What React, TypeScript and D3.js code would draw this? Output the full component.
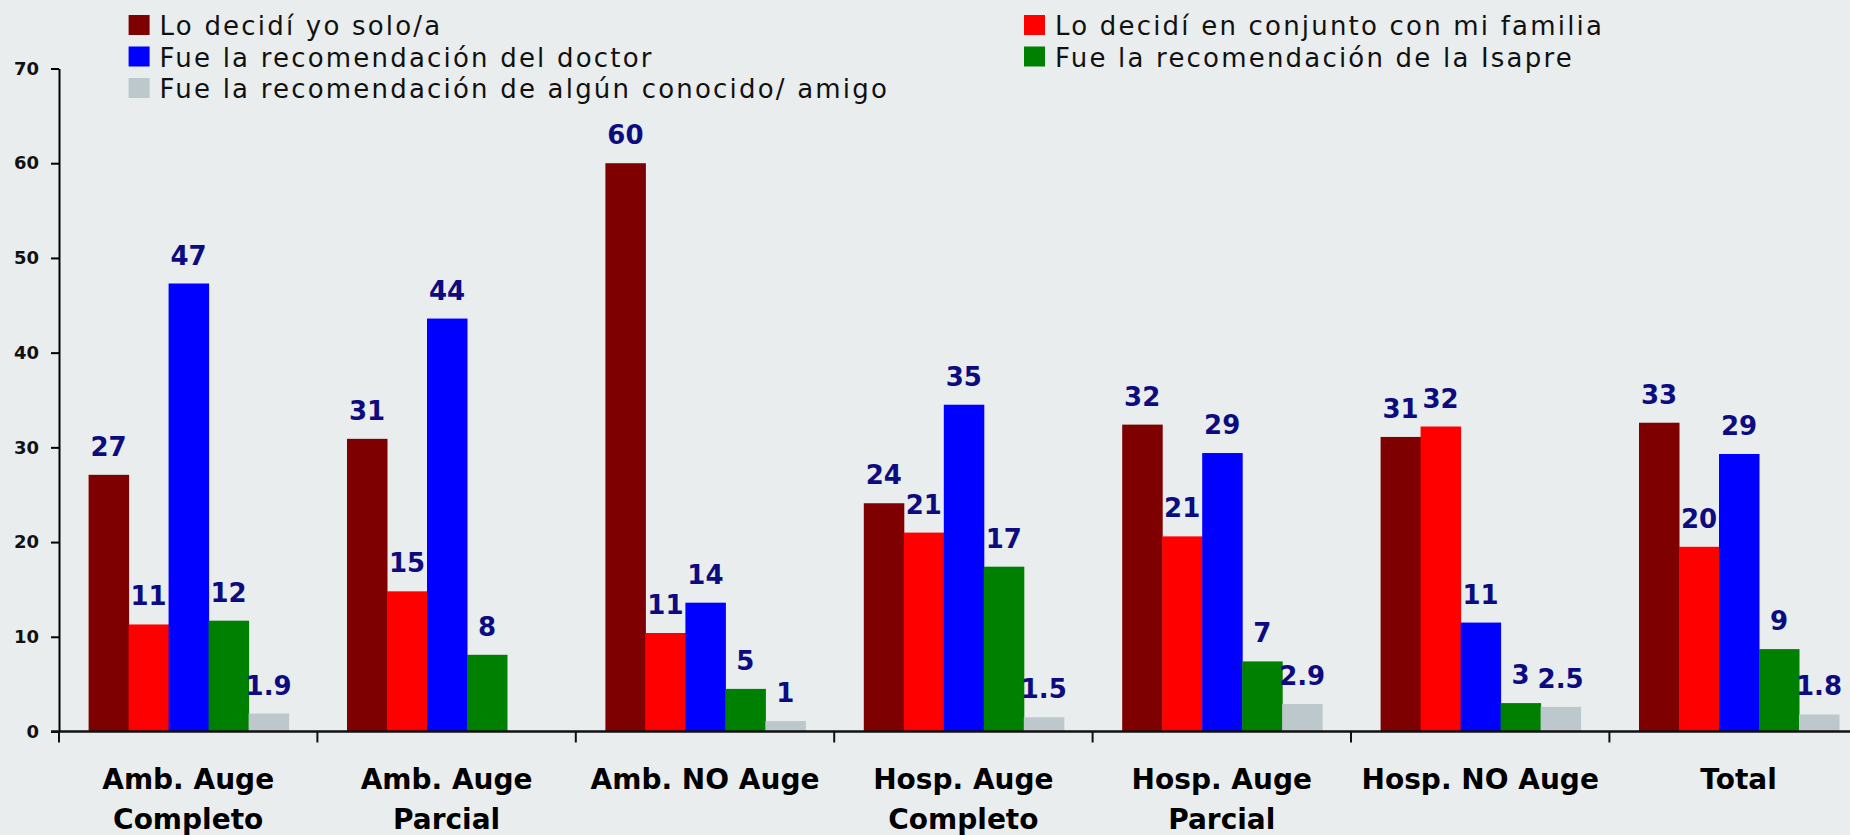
import React, { useRef, useEffect } from 'react';
import * as d3 from 'd3';

const categories = [
  ['Amb. Auge', 'Completo'],
  ['Amb. Auge', 'Parcial'],
  ['Amb. NO Auge'],
  ['Hosp. Auge', 'Completo'],
  ['Hosp. Auge', 'Parcial'],
  ['Hosp. NO Auge'],
  ['Total'],
];

const seriesNames = [
  'Lo decidí yo solo/a',
  'Lo decidí en conjunto con mi familia',
  'Fue la recomendación del doctor',
  'Fue la recomendación de la Isapre',
  'Fue la recomendación de algún conocido/ amigo',
];

const seriesColors = ['#7f0000', '#ff0000', '#0000ff', '#008000', '#bcc8cc'];

// bar heights (null = no bar)
const soloValues = [27.1, 30.9, 60, 24.1, 32.4, 31.1, 32.6];
const familiaValues = [11.3, 14.8, 10.4, 21, 20.6, 32.2, 19.5];
const doctorValues = [47.3, 43.6, 13.6, 34.5, 29.4, 11.5, 29.3];
const isapreValues = [11.7, 8.1, 4.5, 17.4, 7.4, 3, 8.7];
const amigoValues = [1.9, null, 1.1, 1.5, 2.9, 2.6, 1.8];

// printed data labels
const soloLabels = ['27', '31', '60', '24', '32', '31', '33'];
const familiaLabels = ['11', '15', '11', '21', '21', '32', '20'];
const doctorLabels = ['47', '44', '14', '35', '29', '11', '29'];
const isapreLabels = ['12', '8', '5', '17', '7', '3', '9'];
const amigoLabels = ['1.9', '', '1', '1.5', '2.9', '2.5', '1.8'];

const yTicks = [0, 10, 20, 30, 40, 50, 60, 70];

const allValues = [soloValues, familiaValues, doctorValues, isapreValues, amigoValues];
const allLabels = [soloLabels, familiaLabels, doctorLabels, isapreLabels, amigoLabels];

const App = () => {
  const ref = useRef<SVGSVGElement>(null);

  useEffect(() => {
    const width = 1850;
    const height = 835;
    const left = 59;
    const groupW = 258.4;

    const svg = d3.select(ref.current);
    svg.selectAll('*').remove();
    svg.attr('width', width).attr('height', height);

    svg.append('rect').attr('width', width).attr('height', height).attr('fill', '#e9edee');

    const x0 = d3.scaleBand<number>()
      .domain(categories.map((_, i) => i))
      .range([left, left + groupW * categories.length])
      .padding(0);

    const x1 = d3.scaleBand<number>()
      .domain(seriesNames.map((_, i) => i))
      .range([29.6, 229.6])
      .padding(0);

    const y = d3.scaleLinear().domain([0, 70]).range([731.5, 68.5]);

    // bars
    allValues.forEach((vals, s) => {
      const g = svg.append('g');
      vals.forEach((v, c) => {
        if (v == null) return;
        const bx = x0(c)! + x1(s)!;
        g.append('rect')
          .attr('x', bx)
          .attr('y', y(v))
          .attr('width', x1.bandwidth() + 0.5)
          .attr('height', y(0) - y(v))
          .attr('fill', seriesColors[s]);
        const lbl = allLabels[s][c];
        if (lbl) {
          g.append('text')
            .attr('x', bx + x1.bandwidth() / 2)
            .attr('y', y(v) - 19)
            .attr('text-anchor', 'middle')
            .style('font-family', '"DejaVu Sans", Verdana, sans-serif')
            .style('font-weight', 'bold')
            .style('font-size', '26px')
            .style('fill', '#0c0c80')
            .text(lbl);
        }
      });
    });

    // y axis
    const yAxis = svg.append('g')
      .attr('transform', `translate(${left},0)`)
      .call(d3.axisLeft(y).tickValues(yTicks).tickSize(8).tickPadding(12).tickSizeOuter(0));
    yAxis.select('.domain').attr('stroke', '#000').attr('stroke-width', 2);
    yAxis.selectAll('.tick line').attr('stroke', '#000').attr('stroke-width', 2);
    yAxis.selectAll('text')
      .style('font-family', '"DejaVu Sans", Verdana, sans-serif')
      .style('font-weight', 'bold')
      .style('font-size', '18px')
      .style('fill', '#111');

    // x axis line + group ticks
    svg.append('line')
      .attr('x1', left - 8).attr('x2', width)
      .attr('y1', y(0)).attr('y2', y(0))
      .attr('stroke', '#111').attr('stroke-width', 2.5);
    categories.forEach((_, i) => {
      svg.append('line')
        .attr('x1', x0(i)!).attr('x2', x0(i)!)
        .attr('y1', y(0)).attr('y2', y(0) + 11)
        .attr('stroke', '#111').attr('stroke-width', 2);
    });

    // category labels
    categories.forEach((lines, i) => {
      const t = svg.append('text')
        .attr('x', x0(i)! + x0.bandwidth() / 2)
        .attr('y', 789)
        .attr('text-anchor', 'middle')
        .style('font-family', '"DejaVu Sans", Verdana, sans-serif')
        .style('font-weight', 'bold')
        .style('font-size', '28px')
        .style('fill', '#000');
      lines.forEach((ln, j) => {
        t.append('tspan')
          .attr('x', x0(i)! + x0.bandwidth() / 2)
          .attr('dy', j === 0 ? 0 : 40)
          .text(ln);
      });
    });

    // legend
    const legendCols = [128.6, 1024];
    seriesNames.forEach((name, i) => {
      const lx = legendCols[i % 2];
      const ly = 35 + Math.floor(i / 2) * 31.5;
      svg.append('rect')
        .attr('x', lx).attr('y', ly - 20)
        .attr('width', 21).attr('height', 20)
        .attr('fill', seriesColors[i]);
      svg.append('text')
        .attr('x', lx + 31).attr('y', ly)
        .style('font-family', '"DejaVu Sans", Verdana, sans-serif')
        .style('font-size', '26px')
        .style('letter-spacing', '2.2px')
        .style('fill', '#111')
        .text(name);
    });
  }, []);

  return <svg ref={ref} style={{ position: 'absolute', left: 0, top: 0, display: 'block' }}></svg>;
};

export default App;
